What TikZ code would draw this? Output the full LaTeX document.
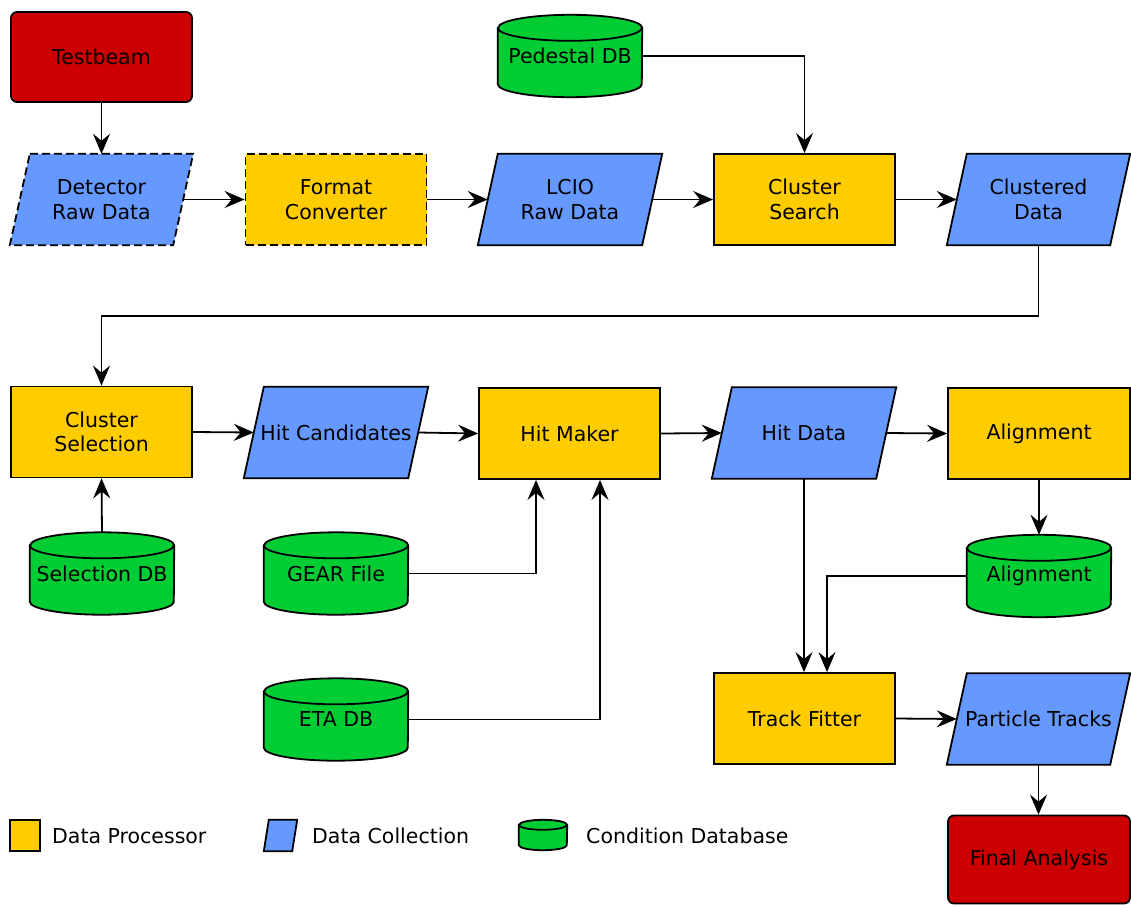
\documentclass[tikz,border=0pt]{standalone}
\usepackage{fontspec}
\setmainfont{DejaVu Sans}
\usetikzlibrary{shapes.geometric,arrows.meta,backgrounds}
\definecolor{procY}{HTML}{FFCC00}
\definecolor{dataB}{HTML}{6699FF}
\definecolor{dbG}{HTML}{00CC33}
\definecolor{termR}{HTML}{CC0000}
\newcommand\drawcyl[3]{%
  \path[fill=dbG,draw=black,line width=1.8pt]
    ([yshift=-#3pt]#1.north west) -- ([yshift=#3pt]#1.south west)
    arc[start angle=180,end angle=360,x radius=#2pt,y radius=#3pt]
    -- ([yshift=-#3pt]#1.north east)
    arc[start angle=0,end angle=180,x radius=#2pt,y radius=#3pt] -- cycle;
  \draw[line width=1.8pt] ([yshift=-#3pt]#1.north west)
    arc[start angle=180,end angle=360,x radius=#2pt,y radius=#3pt];}
\newcommand\drawpar[3]{%
  \path[fill=dataB,draw=black,line width=1.8pt,#3]
    ([xshift=#2pt]#1.north west) -- (#1.north east)
    -- ([xshift=-#2pt]#1.south east) -- (#1.south west) -- cycle;}
\tikzset{
  every node/.style={font=\fontsize{20.5pt}{24.5pt}\selectfont, align=center, inner sep=2pt},
  proc/.style={rectangle, draw=black, line width=1.8pt, fill=procY, minimum width=181pt, minimum height=91pt},
  datac/.style={rectangle, draw=none, minimum width=183pt, minimum height=91pt},
  term/.style={rectangle, rounded corners=6pt, draw=black, line width=1.8pt, fill=termR, minimum width=181pt, minimum height=90pt},
  db/.style={rectangle, draw=none, minimum width=144pt, minimum height=82pt},
  dashedbox/.style={dash pattern=on 8pt off 4pt},
  arr/.style={draw=black, line width=1.8pt, -{Stealth[length=20pt,width=17pt,inset=7pt]}},
  legtext/.style={anchor=west}
}
\begin{document}
\begin{tikzpicture}[x=1pt,y=1pt]
\useasboundingbox (0,0) rectangle (1131,-905);
% row 1
\node[term] (tb) at (101.5,-57) {Testbeam};
\node[datac] (det) at (101.5,-199.5) {Detector\\Raw Data};
\node[proc,dashedbox] (fmt) at (336,-199.5) {Format\\Converter};
\node[datac,minimum width=184pt] (lcio) at (570,-199.5) {LCIO\\Raw Data};
\node[proc] (cs) at (804.5,-199.5) {Cluster\\Search};
\node[datac] (cd) at (1038.5,-199.5) {Clustered\\Data};
\node[db] (ped) at (570,-56) {Pedestal DB};
% row 2
\node[proc] (sel) at (101.5,-432) {Cluster\\Selection};
\node[datac,minimum width=184pt] (hc) at (336,-432.5) {Hit Candidates};
\node[proc] (hm) at (569.5,-433.5) {Hit Maker};
\node[datac,minimum width=184pt] (hd) at (804,-433) {Hit Data};
\node[proc,minimum width=182pt] (al) at (1039,-433.5) {Alignment};
% databases
\node[db] (seldb) at (102,-573.5) {Selection DB};
\node[db] (gear) at (336,-573.5) {GEAR File};
\node[db] (eta) at (336,-719.5) {ETA DB};
\node[db] (aldb) at (1039,-576) {Alignment};
% row 3
\node[proc] (tf) at (804.5,-718.5) {Track Fitter};
\node[datac] (pt) at (1038.5,-719) {Particle Tracks};
\node[term,minimum width=182pt,minimum height=88pt] (fa) at (1039,-859.5) {Final Analysis};
% legend
\node[rectangle,draw=black,line width=1.8pt,fill=procY,minimum width=30pt,minimum height=31pt,inner sep=1pt] (lg1) at (25,-835.5) {};
\node[legtext] (lt1) at (50,-836) {Data Processor};
\node[datac,minimum width=33pt,minimum height=31pt,inner sep=1pt] (lg2) at (280.5,-835.5) {};
\node[legtext] (lt2) at (310,-836) {Data Collection};
\node[db,minimum width=48pt,minimum height=30pt,inner sep=1pt] (lg3) at (543,-835) {};
\node[legtext] (lt3) at (584,-836) {Condition Database};
\begin{scope}[on background layer]
\drawcyl{ped}{72}{13}
\drawcyl{seldb}{72}{13}
\drawcyl{gear}{72}{13}
\drawcyl{eta}{72}{13}
\drawcyl{aldb}{72}{13}
\drawcyl{lg3}{24}{5}
\drawpar{det}{20}{dash pattern=on 8pt off 4pt}
\drawpar{lcio}{20}{}
\drawpar{cd}{20}{}
\drawpar{hc}{20}{}
\drawpar{hd}{20}{}
\drawpar{pt}{20}{}
\drawpar{lg2}{5}{}
\end{scope}
\coordinate (midrow) at (0,-316);
% connectors
\draw[arr] (tb.south) -- (det.north);
\draw[arr] ([xshift=-10pt]det.east) -- (fmt.west);
\draw[arr] (fmt.east) -- ([xshift=10pt]lcio.west);
\draw[arr] ([xshift=-10pt]lcio.east) -- (cs.west);
\draw[arr] (cs.east) -- ([xshift=10pt]cd.west);
\draw[arr] (ped.east) -| (cs.north);
\draw[arr] (cd.south) -- (cd.south |- midrow) -| (sel.north);
\draw[arr] (sel.east) -- ([xshift=10pt]hc.west);
\draw[arr] ([xshift=-10pt]hc.east) -- (hm.west);
\draw[arr] (hm.east) -- ([xshift=10pt]hd.west);
\draw[arr] ([xshift=-10pt]hd.east) -- (al.west);
\draw[arr] (seldb.north) -- (sel.south);
\draw[arr] (gear.east) -| ([xshift=-33.5pt]hm.south);
\draw[arr] (eta.east) -| ([xshift=30.5pt]hm.south);
\draw[arr] (hd.south) -- (hd.south |- tf.north);
\draw[arr] (al.south) -- (aldb.north);
\draw[arr] (aldb.west) -| ([xshift=22.5pt]tf.north);
\draw[arr] (tf.east) -- ([xshift=10pt]pt.west);
\draw[arr] (pt.south) -- (pt.south |- fa.north);
\end{tikzpicture}
\end{document}
